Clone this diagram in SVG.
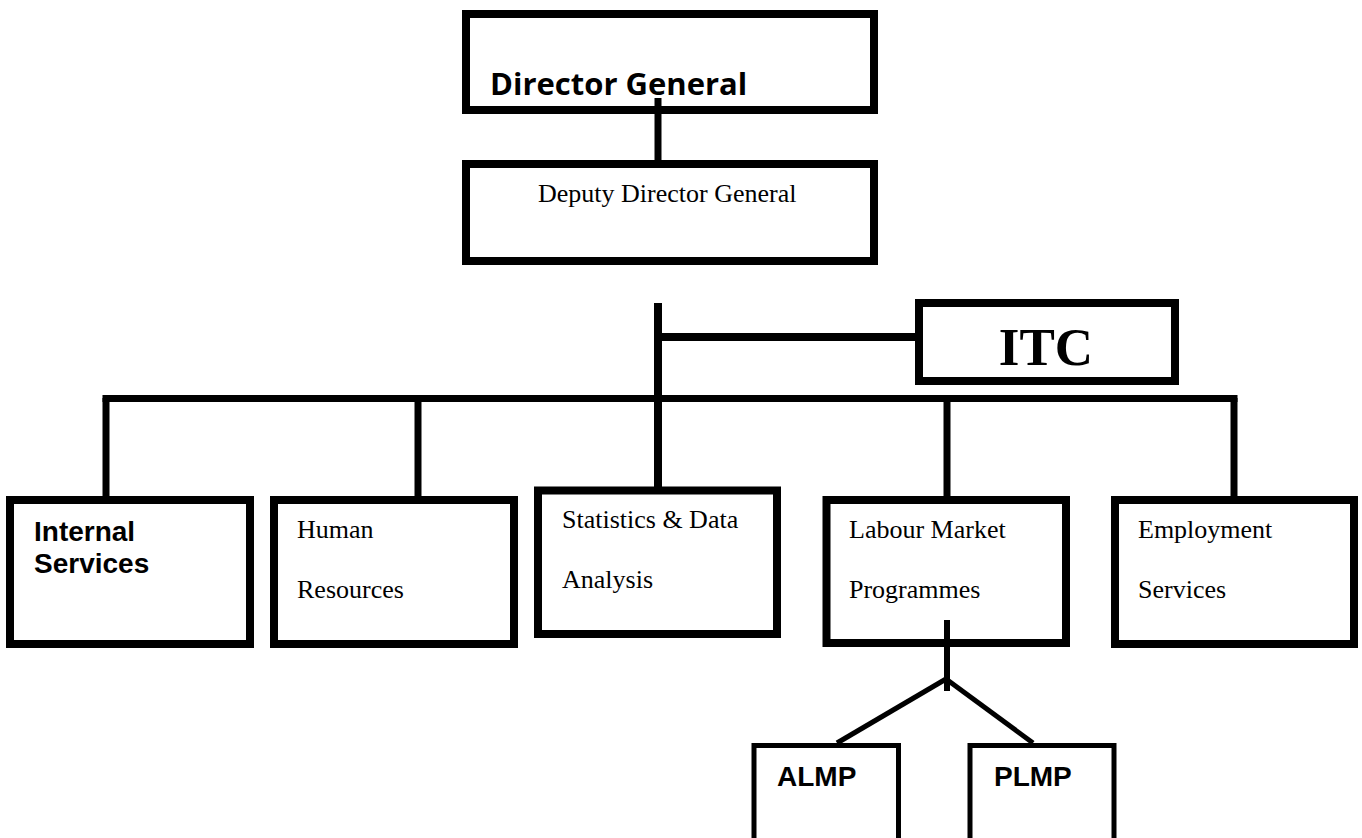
<svg xmlns="http://www.w3.org/2000/svg" width="1362" height="838" viewBox="0 0 1362 838">
  <style>
    .box { fill: #ffffff; stroke: #000000; stroke-width: 8; }
    .sub { fill: #ffffff; stroke: #000000; stroke-width: 5; }
    .ln { stroke: #000000; stroke-width: 7; fill: none; stroke-linecap: butt; }
    .thin { stroke: #000000; stroke-width: 5; fill: none; }
    .serif { font-family: "Liberation Serif", "Times New Roman", serif; font-size: 26px; fill: #000; }
    .sansb { font-family: "Liberation Sans", Arial, sans-serif; font-weight: bold; font-size: 28px; fill: #000; }
    .cal { font-family: "Open Sans", "Noto Sans", sans-serif; font-weight: bold; font-size: 31px; fill: #000; }
    .itc { font-family: "Liberation Serif", "Times New Roman", serif; font-weight: bold; font-size: 53px; fill: #000; }
  </style>
  <rect width="1362" height="838" fill="#ffffff"/>

  <g id="director-general">
    <rect class="box" x="466" y="14" width="408" height="96"/>
    <text class="cal" x="490" y="95">Director General</text>
  </g>
  <g id="deputy-director-general">
    <rect class="box" x="466" y="164" width="408" height="97"/>
    <text class="serif" x="538" y="202">Deputy Director General</text>
  </g>
  <g id="itc">
    <rect class="box" x="919" y="303" width="256" height="78"/>
    <text class="itc" x="1046" y="365" text-anchor="middle">ITC</text>
  </g>
  <g id="internal-services">
    <rect class="box" x="10" y="500" width="240" height="144"/>
    <text class="sansb" x="34" y="541">Internal</text>
    <text class="sansb" x="34" y="573">Services</text>
  </g>
  <g id="human-resources">
    <rect class="box" x="274" y="500" width="240" height="144"/>
    <text class="serif" x="297" y="538">Human</text>
    <text class="serif" x="297" y="598">Resources</text>
  </g>
  <g id="statistics">
    <rect class="box" x="538" y="490.5" width="239" height="143.5"/>
    <text class="serif" x="562" y="528">Statistics &amp; Data</text>
    <text class="serif" x="562" y="588">Analysis</text>
  </g>
  <g id="labour-market">
    <rect class="box" x="826.5" y="500" width="239.5" height="143"/>
    <text class="serif" x="849" y="538">Labour Market</text>
    <text class="serif" x="849" y="598">Programmes</text>
  </g>
  <g id="employment-services">
    <rect class="box" x="1115" y="500" width="239" height="144"/>
    <text class="serif" x="1138" y="538">Employment</text>
    <text class="serif" x="1138" y="598">Services</text>
  </g>
  <g id="almp">
    <rect class="sub" x="754" y="745.5" width="144.5" height="120"/>
    <text class="sansb" x="777" y="786">ALMP</text>
  </g>
  <g id="plmp">
    <rect class="sub" x="970" y="745.5" width="144" height="120"/>
    <text class="sansb" x="994" y="786">PLMP</text>
  </g>

  <g id="connectors">
    <line class="ln" x1="658" y1="98" x2="658" y2="164"/>
    <line class="ln" x1="658" y1="303" x2="658" y2="491" style="stroke-width:8"/>
    <line class="ln" x1="658" y1="337" x2="919" y2="337" style="stroke-width:8"/>
    <line class="ln" x1="102.5" y1="398.5" x2="1237.5" y2="398.5"/>
    <line class="ln" x1="106" y1="398" x2="106" y2="500"/>
    <line class="ln" x1="418" y1="398" x2="418" y2="500"/>
    <line class="ln" x1="947" y1="398" x2="947" y2="500"/>
    <line class="ln" x1="1234" y1="398" x2="1234" y2="500"/>
    <line class="ln" x1="947" y1="620" x2="947" y2="691" style="stroke-width:6"/>
    <line class="thin" x1="946" y1="679" x2="837" y2="743"/>
    <line class="thin" x1="946" y1="679" x2="1033" y2="743"/>
  </g>
</svg>
